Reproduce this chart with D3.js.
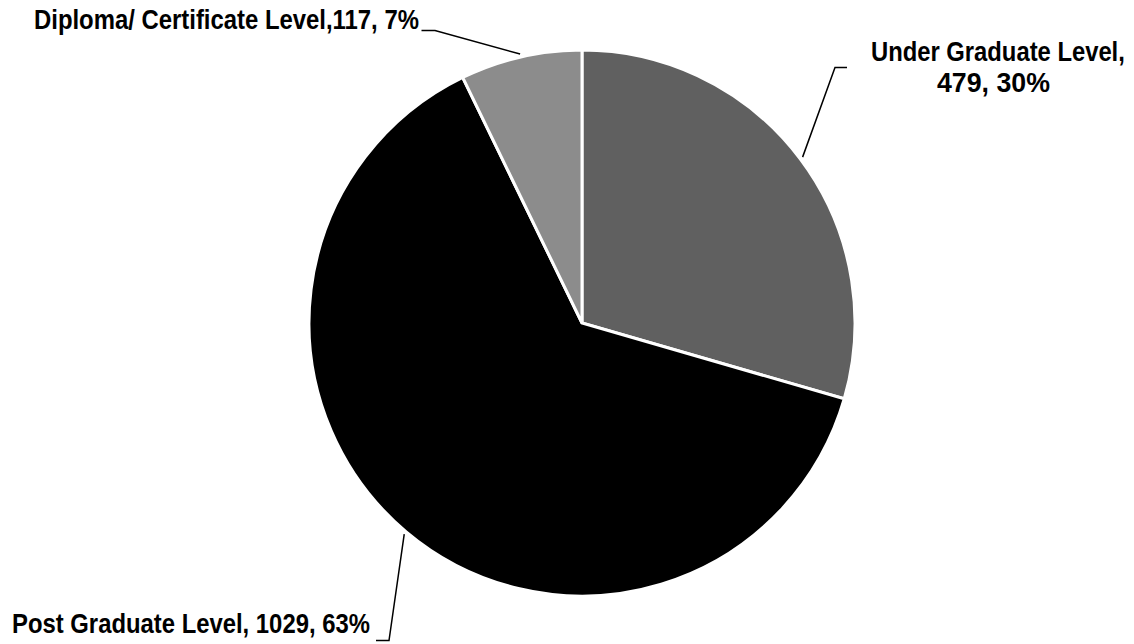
<!DOCTYPE html>
<html>
<head>
<meta charset="utf-8">
<script src="https://cdn.jsdelivr.net/npm/d3@7"></script>
<style>
  html, body { margin: 0; padding: 0; background: #fff; }
  svg { display: block; }
  text { font-family: "Liberation Sans Narrow", "Arial Narrow", "Liberation Sans", Arial, sans-serif; font-weight: bold; fill: #000; }
</style>
</head>
<body>
<svg id="chart" width="1134" height="644"></svg>
<script>
const categories = ["Under Graduate Level", "Post Graduate Level", "Diploma/ Certificate Level"];
const values = [479, 1029, 117];
const percents = ["30%", "63%", "7%"];
const colors = ["#606060", "#000000", "#8c8c8c"];

// label text lines
const labelLines = [
  ["Under Graduate Level,", "479, 30%"],
  ["Post Graduate Level, 1029, 63%"],
  ["Diploma/ Certificate Level,117, 7%"]
];
// label layout: left edge, baseline, target width per line, leader elbow
const labelLayout = [
  { lines: [{ x: 871, y: 61, w: 254 }, { x: 937, y: 92, w: 113 }], elbow: [[847, 67.5], [835, 67.5]] },
  { lines: [{ x: 12, y: 633, w: 358 }], elbow: [[376, 640.5], [389, 640.5]] },
  { lines: [{ x: 34, y: 29, w: 385 }], elbow: [[421.5, 30.5], [435, 30.5]] }
];

const width = 1134, height = 644;
const cx = 582, cy = 323, radius = 273;

const svg = d3.select("#chart");
const g = svg.append("g").attr("transform", `translate(${cx},${cy})`);

const pie = d3.pie().sort(null).value(d => d)(values);
const arc = d3.arc().innerRadius(0).outerRadius(radius);
const outerArc = d3.arc().innerRadius(radius + 3).outerRadius(radius + 3);

g.selectAll("path.slice")
  .data(pie)
  .join("path")
  .attr("class", "slice")
  .attr("d", arc)
  .attr("fill", (d, i) => colors[i])
  .attr("stroke", "#fff")
  .attr("stroke-width", 3)
  .attr("stroke-linejoin", "miter");

// leader lines
const line = d3.line();
pie.forEach((d, i) => {
  const c = outerArc.centroid(d);
  const end = [c[0] + cx, c[1] + cy];
  const pts = labelLayout[i].elbow.concat([end]);
  svg.append("path")
    .attr("d", line(pts))
    .attr("fill", "none")
    .attr("stroke", "#000")
    .attr("stroke-width", 1.5);
});

// labels (horizontally condensed to match a narrow face)
labelLines.forEach((lines, i) => {
  const lay = labelLayout[i];
  lines.forEach((txt, j) => {
    const p = lay.lines[j];
    const grp = svg.append("g");
    const t = grp.append("text")
      .attr("x", 0)
      .attr("y", 0)
      .attr("font-size", 27)
      .text(txt);
    const natural = t.node().getComputedTextLength();
    const sx = p.w / natural;
    grp.attr("transform", `translate(${p.x},${p.y}) scale(${sx},1)`);
  });
});
</script>
</body>
</html>
